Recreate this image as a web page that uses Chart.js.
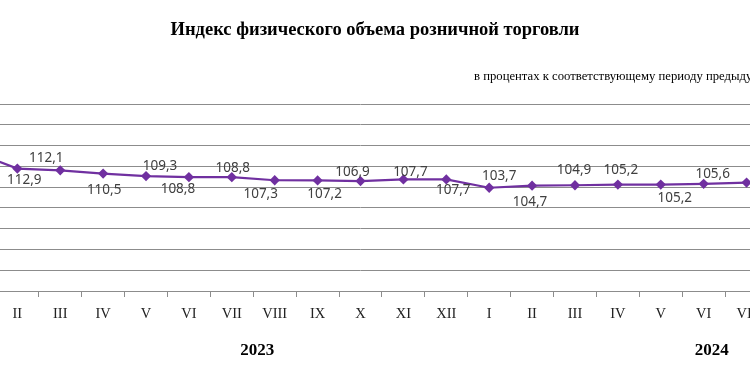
<!DOCTYPE html>
<html>
<head>
<meta charset="utf-8">
<script src="https://cdn.jsdelivr.net/npm/chart.js@4"></script>
<style>
  html, body { margin: 0; padding: 0; background: #fff; }
  #frame { position: relative; width: 750px; height: 375px; overflow: hidden; }
  #box { position: absolute; left: -100px; top: 0; width: 950px; height: 375px; }
</style>
</head>
<body>
<div id="frame"><div id="box"><canvas id="grafico"></canvas></div></div>
<script>
// months, 2023 (I .. XII) then 2024 (I .. VII); the picture is cropped, so I-2023 sits off screen
const meses = ['I', 'II', 'III', 'IV', 'V', 'VI', 'VII', 'VIII', 'IX', 'X', 'XI', 'XII',
               'I', 'II', 'III', 'IV', 'V', 'VI', 'VII'];
const indice = [120.8, 112.9, 112.1, 110.5, 109.3, 108.8, 108.8, 107.3, 107.2, 106.9, 107.7, 107.7,
                103.7, 104.7, 104.9, 105.2, 105.2, 105.6, 106.2];
const anios = ['2023', '2024'];
const titulo = 'Индекс физического объема розничной торговли';
const subtitulo = 'в процентах к соответствующему периоду предыдущего года';

// where each value label goes relative to its point (null = not shown)
const etiquetaDx = [null, 7, -14, 1, 14, -11, 1, -14, 7, -8, 7, 7, 10, -2, -1, 3, 14, 9, null];
const etiquetaDy = [null, 12, -12, 17, -10, 12, -9, 14, 14, -9, -7, 11, -12, 16, -15, -14, 14, -10, null];

const textos = {
    id: 'textos',
    afterDraw(chart) {
        const ctx = chart.ctx;
        const x = chart.scales.x;
        const meta = chart.getDatasetMeta(0);
        ctx.save();

        // value labels
        ctx.font = '13.5px "Noto Sans"';
        ctx.fillStyle = '#404040';
        ctx.textAlign = 'center';
        ctx.textBaseline = 'middle';
        meta.data.forEach((p, i) => {
            if (etiquetaDx[i] === null) return;
            const txt = indice[i].toFixed(1).replace('.', ',');
            ctx.fillText(txt, p.x + etiquetaDx[i], p.y + etiquetaDy[i]);
        });

        // title
        ctx.fillStyle = '#000';
        ctx.font = 'bold 18.5px "Liberation Serif"';
        ctx.fillText(titulo, chart.width / 2, 30);

        // unit note, runs past the right edge like the original
        ctx.font = '12.7px "Liberation Serif"';
        ctx.fillStyle = '#000';
        ctx.textAlign = 'left';
        ctx.fillText(subtitulo, 574, 77);

        // years under the month axis
        ctx.font = 'bold 17px "Liberation Serif"';
        ctx.textAlign = 'center';
        ctx.fillText(anios[0], x.getPixelForValue(6.5) + 4, 351);
        ctx.fillText(anios[1], x.getPixelForValue(17) + 8, 351);
        ctx.restore();
    }
};

const ctx = document.getElementById('grafico').getContext('2d');
const chart = new Chart(ctx, {
    type: 'line',
    data: {
        labels: meses,
        datasets: [{
            data: indice,
            borderColor: '#7030A0',
            backgroundColor: '#7030A0',
            borderWidth: 2.2,
            pointStyle: 'rectRot',
            pointRadius: 3.6,
            pointHoverRadius: 3.6,
            tension: 0,
            clip: false
        }]
    },
    options: {
        responsive: true,
        maintainAspectRatio: false,
        animation: false,
        layout: { padding: { left: 53, right: 82, top: 104, bottom: 0 } },
        plugins: {
            legend: { display: false },
            tooltip: { enabled: false }
        },
        scales: {
            x: {
                offset: true,
                grid: {
                    offset: true,
                    drawOnChartArea: false,
                    drawTicks: true,
                    tickLength: 6,
                    tickColor: '#8c8c8c'
                },
                border: { color: '#8c8c8c', width: 1 },
                ticks: {
                    color: '#222',
                    font: { family: '"Liberation Serif"', size: 14.5 },
                    padding: 8,
                    maxRotation: 0,
                    autoSkip: false
                },
                afterFit(scale) { scale.height = 84; }
            },
            y: {
                min: 54,
                max: 144,
                ticks: { display: false, stepSize: 10 },
                grid: { color: '#8c8c8c', drawTicks: false },
                border: { display: false },
                afterFit(scale) { scale.width = 0; }
            }
        }
    },
    plugins: [textos]
});
</script>
</body>
</html>
